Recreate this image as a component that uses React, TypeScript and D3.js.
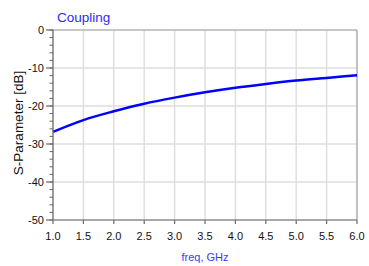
import * as d3 from 'd3';
import React from 'react';

const freq = [1.0, 1.5, 2.0, 2.5, 3.0, 3.5, 4.0, 4.5, 5.0, 5.5, 6.0];
const coupling = [-26.8, -23.7, -21.4, -19.4, -17.8, -16.4, -15.2, -14.2, -13.3, -12.6, -11.9];
const xTicks = [1.0, 1.5, 2.0, 2.5, 3.0, 3.5, 4.0, 4.5, 5.0, 5.5, 6.0];
const yTicks = [0, -10, -20, -30, -40, -50];
const yMinor = d3.range(0, -51, -2);

const App: React.FC = () => {
  const W = 369;
  const H = 266;
  const margin = { top: 30, right: 12, bottom: 46, left: 53 };
  const pw = W - margin.left - margin.right;
  const ph = H - margin.top - margin.bottom;

  const x = d3.scaleLinear().domain([1, 6]).range([0, pw]);
  const y = d3.scaleLinear().domain([-50, 0]).range([ph, 0]);

  const line = d3.line<number>()
    .x((_, i) => x(freq[i]))
    .y(d => y(d))
    .curve(d3.curveMonotoneX);

  const font = 'Arial, "Liberation Sans", sans-serif';

  return (
    <svg width={W} height={H} style={{ position: 'absolute', left: 0, top: 0, background: '#fff' }} fontFamily={font}>
      <text x={57} y={22} fontSize={13.5} fill="#2b2bff">Coupling</text>
      <g transform={`translate(${margin.left}, ${margin.top})`}>
        {xTicks.map(t => (
          <line key={'gx' + t} x1={x(t)} x2={x(t)} y1={0} y2={ph} stroke="#dedede" strokeWidth={1.5} />
        ))}
        {yTicks.map(t => (
          <line key={'gy' + t} x1={0} x2={pw} y1={y(t)} y2={y(t)} stroke="#dedede" strokeWidth={1.5} />
        ))}
        <line x1={0} x2={pw} y1={0} y2={0} stroke="#a8a8a8" strokeWidth={1.2} />
        <line x1={pw} x2={pw} y1={0} y2={ph} stroke="#a8a8a8" strokeWidth={1.2} />
        <path d={line(coupling) ?? ''} fill="none" stroke="#0000ff" strokeWidth={2.5} />
        <line x1={0} x2={0} y1={0} y2={ph} stroke="#6a6a6a" strokeWidth={1.2} />
        <line x1={0} x2={pw} y1={ph} y2={ph} stroke="#6a6a6a" strokeWidth={1.2} />
        {yMinor.map(t => (
          <line key={'ym' + t} x1={-3.5} x2={0} y1={y(t)} y2={y(t)} stroke="#6a6a6a" strokeWidth={1} />
        ))}
        {yTicks.map(t => (
          <g key={'yt' + t}>
            <line x1={-7} x2={0} y1={y(t)} y2={y(t)} stroke="#6a6a6a" strokeWidth={1.2} />
            <text x={-9} y={y(t)} dy="0.35em" textAnchor="end" fontSize={11} fill="#111">{t}</text>
          </g>
        ))}
        {xTicks.map(t => (
          <g key={'xt' + t}>
            <line x1={x(t)} x2={x(t)} y1={ph} y2={ph + 4} stroke="#6a6a6a" strokeWidth={1.2} />
            <text x={x(t)} y={ph + 16} dy="0.35em" textAnchor="middle" fontSize={11} fill="#111">{t.toFixed(1)}</text>
          </g>
        ))}
        <text x={pw / 2} y={ph + 37} dy="0.35em" textAnchor="middle" fontSize={11} fill="#3a3aff">freq, GHz</text>
      </g>
      <text transform={`translate(18, 123) rotate(-90)`} dy="0.35em" textAnchor="middle" fontSize={13.5} fill="#111">S-Parameter [dB]</text>
    </svg>
  );
};

export default App;
